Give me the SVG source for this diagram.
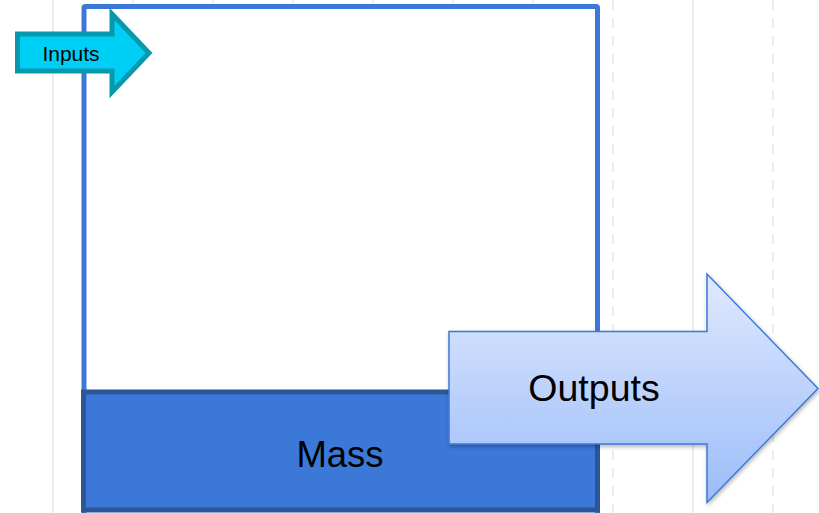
<svg xmlns="http://www.w3.org/2000/svg" width="819" height="513" viewBox="0 0 819 513">
  <style>
    .grid { stroke: #ececec; stroke-width: 2; fill: none; }
    .grid.dash { stroke-dasharray: 10 8; }
    .label { font-family: "Liberation Sans", Arial, sans-serif; fill: #000; text-anchor: middle; }
  </style>
  <defs>
    <linearGradient id="outGrad" x1="0" y1="0" x2="0" y2="1">
      <stop offset="0" stop-color="#e0e9fe"/>
      <stop offset="1" stop-color="#9bbcf9"/>
    </linearGradient>
    <filter id="softShadow" x="-10%" y="-10%" width="120%" height="120%">
      <feDropShadow dx="1" dy="2" stdDeviation="2" flood-color="#000" flood-opacity="0.3"/>
    </filter>
  </defs>

  <rect width="819" height="513" fill="#ffffff"/>

  <!-- background guide lines -->
  <g id="grid">
    <line class="grid" x1="53" y1="0" x2="53" y2="513"/>
    <line class="grid dash" x1="133" y1="0" x2="133" y2="513"/>
    <line class="grid" x1="213" y1="0" x2="213" y2="513"/>
    <line class="grid dash" x1="293" y1="0" x2="293" y2="513"/>
    <line class="grid" x1="373" y1="0" x2="373" y2="513"/>
    <line class="grid dash" x1="453" y1="0" x2="453" y2="513"/>
    <line class="grid" x1="533" y1="0" x2="533" y2="513"/>
    <line class="grid dash" x1="613" y1="0" x2="613" y2="513"/>
    <line class="grid" x1="693" y1="0" x2="693" y2="513"/>
    <line class="grid dash" x1="773" y1="0" x2="773" y2="513"/>
  </g>

  <!-- stock container -->
  <g id="container">
    <rect x="84" y="6.5" width="513.5" height="520" rx="1.5" fill="#ffffff" stroke="#3c78d8" stroke-width="5"/>
  </g>

  <!-- accumulated mass -->
  <g id="mass">
    <rect x="83.5" y="392" width="514" height="118" fill="#3c78d8" stroke="#2b579a" stroke-width="5"/>
    <text class="label" x="340" y="467" font-size="36.5">Mass</text>
  </g>

  <!-- inflow arrow -->
  <g id="inputs">
    <path d="M17.5,34 H112 V14 L149,53 L112,92 V71 H17.5 Z" fill="#00cff5" stroke="#0898ad" stroke-width="5" stroke-linejoin="miter"/>
    <text class="label" x="71" y="61" font-size="21">Inputs</text>
  </g>

  <!-- outflow arrow -->
  <g id="outputs">
    <path d="M449,331.5 H707 V274 L818,388.5 L707,502.5 V444 H449 Z" fill="url(#outGrad)" stroke="#3c78d8" stroke-width="1.5" filter="url(#softShadow)"/>
    <text class="label" x="594" y="401" font-size="37.5">Outputs</text>
  </g>
</svg>
